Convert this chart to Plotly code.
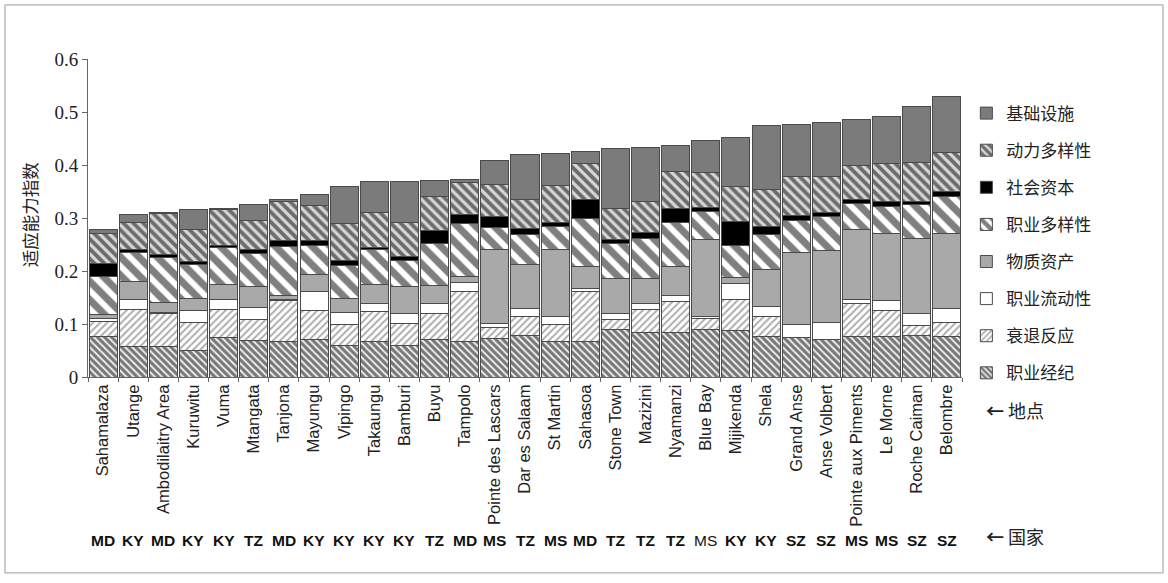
import plotly.graph_objects as go

# Sites (x categories) and their country codes
sites = ["Sahamalaza", "Utange", "Ambodilaitry Area", "Kuruwitu", "Vuma", "Mtangata",
         "Tanjona", "Mayungu", "Vipingo", "Takaungu", "Bamburi", "Buyu", "Tampolo",
         "Pointe des Lascars", "Dar es Salaam", "St Martin", "Sahasoa", "Stone Town",
         "Mazizini", "Nyamanzi", "Blue Bay", "Mijikenda", "Shela", "Grand Anse",
         "Anse Volbert", "Pointe aux Piments", "Le Morne", "Roche Caiman", "Belombre"]
countries = ["MD", "KY", "MD", "KY", "KY", "TZ", "MD", "KY", "KY", "KY", "KY", "TZ", "MD",
             "MS", "TZ", "MS", "MD", "TZ", "TZ", "TZ", "MS", "KY", "KY", "SZ", "SZ", "MS",
             "MS", "SZ", "SZ"]

# Component contributions to the adaptive capacity index (stacked bottom -> top)
zhiye_jingji = [0.076, 0.057, 0.058, 0.050, 0.075, 0.068, 0.067, 0.070, 0.060, 0.067, 0.060,
                0.071, 0.067, 0.073, 0.079, 0.067, 0.067, 0.089, 0.084, 0.084, 0.090, 0.087,
                0.076, 0.075, 0.071, 0.077, 0.076, 0.079, 0.077]
shuaitui = [0.028, 0.070, 0.062, 0.052, 0.053, 0.040, 0.078, 0.055, 0.039, 0.056, 0.041,
            0.048, 0.094, 0.021, 0.035, 0.033, 0.094, 0.019, 0.044, 0.058, 0.021, 0.060,
            0.039, 0.000, 0.000, 0.062, 0.050, 0.019, 0.025]
liudong = [0.006, 0.020, 0.002, 0.023, 0.019, 0.024, 0.002, 0.036, 0.022, 0.016, 0.019,
           0.020, 0.017, 0.007, 0.016, 0.015, 0.006, 0.011, 0.011, 0.011, 0.004, 0.030,
           0.018, 0.025, 0.031, 0.008, 0.018, 0.022, 0.028]
wuzhi = [0.007, 0.033, 0.018, 0.023, 0.027, 0.038, 0.006, 0.033, 0.028, 0.035, 0.050,
         0.033, 0.011, 0.139, 0.083, 0.126, 0.041, 0.067, 0.047, 0.055, 0.145, 0.011,
         0.070, 0.135, 0.136, 0.132, 0.127, 0.142, 0.141]
zhiye_duoyang = [0.073, 0.055, 0.086, 0.065, 0.070, 0.063, 0.093, 0.055, 0.061, 0.066, 0.050,
                 0.080, 0.101, 0.042, 0.055, 0.043, 0.091, 0.065, 0.076, 0.083, 0.052, 0.061,
                 0.065, 0.061, 0.064, 0.049, 0.050, 0.063, 0.069]
shehui = [0.025, 0.005, 0.006, 0.005, 0.005, 0.008, 0.012, 0.009, 0.009, 0.005, 0.008,
          0.025, 0.016, 0.020, 0.012, 0.007, 0.035, 0.009, 0.010, 0.027, 0.007, 0.044,
          0.016, 0.008, 0.008, 0.007, 0.010, 0.006, 0.010]
dongli = [0.056, 0.051, 0.077, 0.061, 0.067, 0.055, 0.074, 0.065, 0.070, 0.065, 0.063,
          0.063, 0.061, 0.062, 0.055, 0.071, 0.068, 0.058, 0.059, 0.069, 0.066, 0.066,
          0.070, 0.075, 0.068, 0.065, 0.072, 0.073, 0.073]
jichu = [0.007, 0.015, 0.002, 0.037, 0.002, 0.030, 0.002, 0.022, 0.070, 0.058, 0.077,
         0.030, 0.005, 0.044, 0.084, 0.060, 0.024, 0.113, 0.102, 0.049, 0.061, 0.093,
         0.120, 0.098, 0.103, 0.085, 0.088, 0.107, 0.107]

series = [
    ("职业经纪", zhiye_jingji, dict(shape="\\", fgcolor="#000", bgcolor="#efefef", size=5, solidity=0.62)),
    ("衰退反应", shuaitui, dict(shape="/", fgcolor="#5a5a5a", bgcolor="#fff", size=5, solidity=0.4)),
    ("职业流动性", liudong, None),
    ("物质资产", wuzhi, None),
    ("职业多样性", zhiye_duoyang, dict(shape="\\", fgcolor="#000", bgcolor="#fff", size=13, solidity=0.55)),
    ("社会资本", shehui, None),
    ("动力多样性", dongli, dict(shape="\\", fgcolor="#000", bgcolor="#d8d8d8", size=7, solidity=0.55)),
    ("基础设施", jichu, None),
]
solid_colors = {"职业流动性": "#ffffff", "物质资产": "#a9a9a9", "社会资本": "#000000",
                "基础设施": "#7b7b7b", "职业经纪": "#efefef", "衰退反应": "#ffffff",
                "职业多样性": "#ffffff", "动力多样性": "#d8d8d8"}

fig = go.Figure()
n = len(series)
for i, (name, vals, pat) in enumerate(series):
    marker = dict(color=solid_colors[name], line=dict(color="#4a4a4a", width=1))
    if pat:
        marker["pattern"] = pat
    # legend lists the top layer first
    fig.add_trace(go.Bar(x=sites, y=vals, name=name, marker=marker, legendgroup=name,
                         legendrank=n - i))

cjk = "Noto Sans CJK SC"

# country code row beneath the site names
annotations = []
for s, c in zip(sites, countries):
    bold = not (c == "MS" and s == "Blue Bay")
    annotations.append(dict(x=s, xref="x", y=-0.547, yref="paper", text=f"<b>{c}</b>" if bold else c,
                            showarrow=False, font=dict(family="Liberation Sans", size=15.5, color="#111")))
annotations += [
    dict(x=1.025, xref="paper", y=-0.151, yref="paper", xanchor="left", showarrow=False,
         text="<b>←</b> 地点", font=dict(family=cjk, size=18, color="#222")),
    dict(x=1.025, xref="paper", y=-0.547, yref="paper", xanchor="left", showarrow=False,
         text="<b>←</b> 国家", font=dict(family=cjk, size=18, color="#222")),
    dict(x=-0.066, xref="paper", y=0.51, yref="paper", xanchor="center", yanchor="middle",
         textangle=-90, showarrow=False,
         text="适应能力指数", font=dict(family=cjk, size=17.5, color="#222")),
]

fig.update_layout(
    width=1168, height=583,
    margin=dict(l=88, r=206, t=59, b=206),
    barmode="stack", bargap=0.07,
    plot_bgcolor="#ffffff", paper_bgcolor="#ffffff",
    showlegend=True,
    legend=dict(traceorder="grouped", x=1.005, y=0.885, xanchor="left", yanchor="top",
                font=dict(family=cjk, size=17, color="#222"), tracegroupgap=12,
                itemwidth=30, bgcolor="rgba(0,0,0,0)"),
    annotations=annotations,
    shapes=[dict(type="rect", xref="paper", yref="paper", x0=-0.095, x1=1.23, y0=-0.616, y1=1.17,
                 line=dict(color="#9a9a9a", width=1))],
)
fig.update_yaxes(range=[0, 0.6], dtick=0.1, showgrid=False, zeroline=False,
                 showline=True, linecolor="#666", linewidth=1, ticks="outside", ticklen=5,
                 tickcolor="#666", tickfont=dict(family="Liberation Serif", size=19, color="#222"))
fig.update_xaxes(showgrid=False, showline=True, linecolor="#666", linewidth=1,
                 ticks="outside", tickson="boundaries", ticklen=4, tickcolor="#666",
                 tickangle=-90, tickfont=dict(family="Liberation Sans", size=16.5, color="#222"))

fig.write_html("out.html")
